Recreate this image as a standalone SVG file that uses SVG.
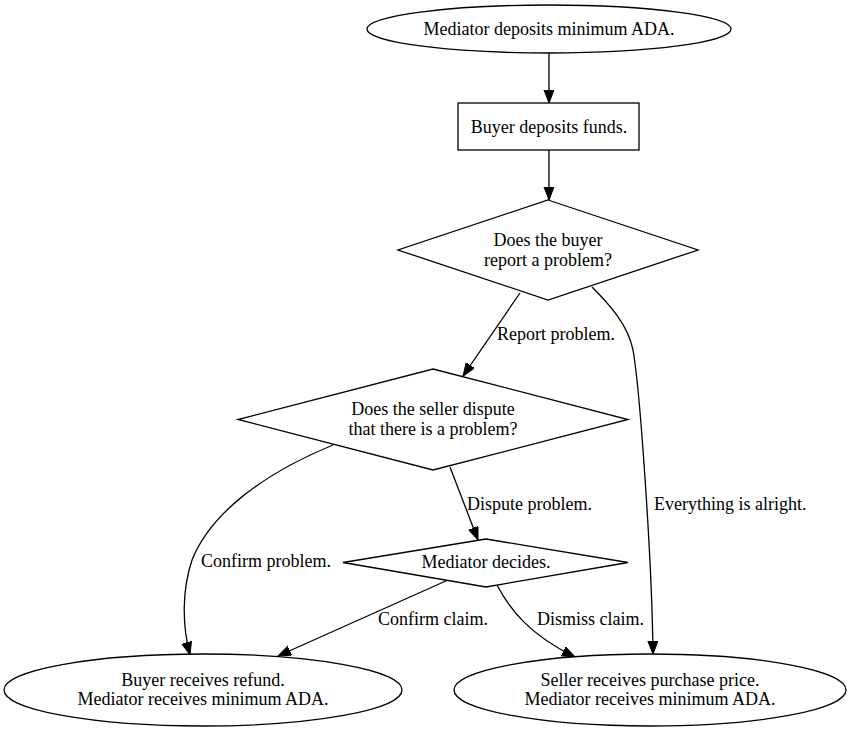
<svg xmlns="http://www.w3.org/2000/svg" width="853" height="732" viewBox="0 0 853 732">
<style>
.n{fill:#fff;stroke:#000;stroke-width:1.3}
.e{fill:none;stroke:#000;stroke-width:1.3}
text{font-family:"Liberation Serif","Times New Roman",serif;font-size:18px;fill:#000}
.c{text-anchor:middle}
</style>
<defs>
<marker id="ah" markerUnits="userSpaceOnUse" markerWidth="16" markerHeight="12" refX="13" refY="5" orient="auto">
<path d="M0,0 L13,5 L0,10 z" fill="#000" stroke="#000" stroke-width="1"/>
</marker>
</defs>
<rect width="853" height="732" fill="#fff"/>
<g id="edges">
<path class="e" d="M549,53 L549,103" marker-end="url(#ah)"/>
<path class="e" d="M549,150 L549,200" marker-end="url(#ah)"/>
<path class="e" d="M520,293 L463,376" marker-end="url(#ah)"/>
<text x="497" y="340">Report problem.</text>
<path class="e" d="M592,287 C610,305 628,325 633,350 C640,390 652,560 653,654" marker-end="url(#ah)"/>
<text x="654" y="510">Everything is alright.</text>
<path class="e" d="M450,467 L478,540" marker-end="url(#ah)"/>
<text x="467" y="510">Dispute problem.</text>
<path class="e" d="M333,445 C260,475 210,515 192,560 C182,590 182,625 190,655" marker-end="url(#ah)"/>
<text x="201" y="567">Confirm problem.</text>
<path class="e" d="M448,580 L278,656" marker-end="url(#ah)"/>
<text x="378" y="625">Confirm claim.</text>
<path class="e" d="M497,585 C510,610 530,635 575,657" marker-end="url(#ah)"/>
<text x="537" y="625">Dismiss claim.</text>
</g>
<g id="n1"><ellipse class="n" cx="549" cy="29" rx="182" ry="24"/><text class="c" x="549" y="35">Mediator deposits minimum ADA.</text></g>
<g id="n2"><rect class="n" x="458" y="103" width="181" height="47"/><text class="c" x="549" y="133">Buyer deposits funds.</text></g>
<g id="n3"><polygon class="n" points="548,200 698,250 548,300 398,250"/><text class="c" x="548" y="246">Does the buyer</text><text class="c" x="548" y="266">report a problem?</text></g>
<g id="n4"><polygon class="n" points="433,369 628,419.5 433,470 238,419.5"/><text class="c" x="433" y="415">Does the seller dispute</text><text class="c" x="433" y="435">that there is a problem?</text></g>
<g id="n5"><polygon class="n" points="486,539 628,562.5 486,587 343,562.5"/><text class="c" x="486" y="568">Mediator decides.</text></g>
<g id="n6"><ellipse class="n" cx="203" cy="690" rx="199" ry="36"/><text class="c" x="203" y="686">Buyer receives refund.</text><text class="c" x="203" y="705">Mediator receives minimum ADA.</text></g>
<g id="n7"><ellipse class="n" cx="650" cy="690" rx="196" ry="36"/><text class="c" x="650" y="686">Seller receives purchase price.</text><text class="c" x="650" y="705">Mediator receives minimum ADA.</text></g>
</svg>
